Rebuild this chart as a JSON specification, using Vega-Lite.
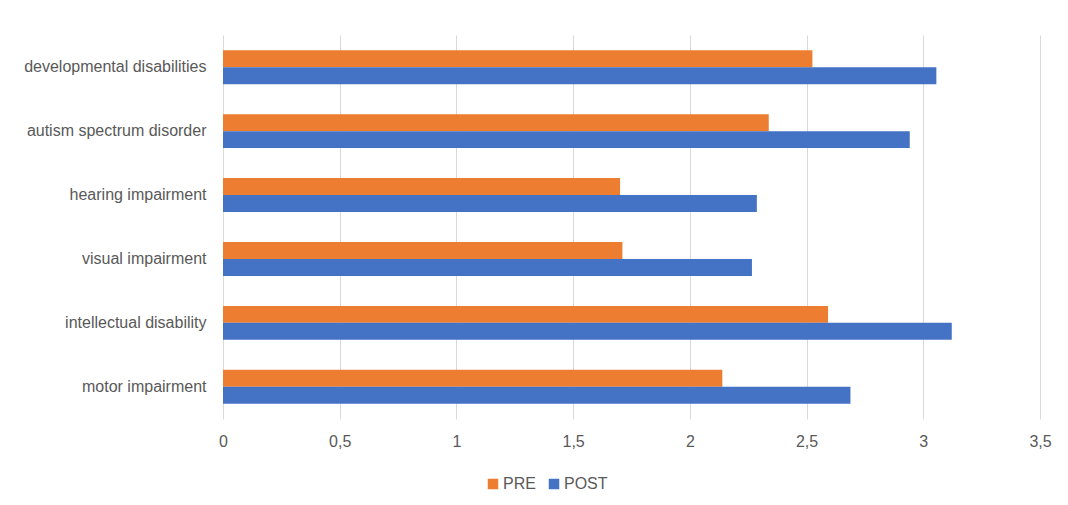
{
  "$schema": "https://vega.github.io/schema/vega-lite/v6.json",
  "autosize": "none",
  "width": 817,
  "height": 384,
  "padding": {"left": 223, "top": 35, "right": 28, "bottom": 86},
  "background": "white",
  "config": {
    "font": "Liberation Sans",
    "view": {"stroke": null},
    "axis": {"labelColor": "#595959", "labelFontSize": 16, "titleColor": "#595959"}
  },
  "data": {
    "values": [
      {"category": "developmental disabilities", "phase": "PRE", "score": 2.525},
      {"category": "developmental disabilities", "phase": "POST", "score": 3.056},
      {"category": "autism spectrum disorder", "phase": "PRE", "score": 2.338},
      {"category": "autism spectrum disorder", "phase": "POST", "score": 2.942},
      {"category": "hearing impairment", "phase": "PRE", "score": 1.701},
      {"category": "hearing impairment", "phase": "POST", "score": 2.287},
      {"category": "visual impairment", "phase": "PRE", "score": 1.711},
      {"category": "visual impairment", "phase": "POST", "score": 2.266},
      {"category": "intellectual disability", "phase": "PRE", "score": 2.592},
      {"category": "intellectual disability", "phase": "POST", "score": 3.122},
      {"category": "motor impairment", "phase": "PRE", "score": 2.139},
      {"category": "motor impairment", "phase": "POST", "score": 2.688}
    ]
  },
  "mark": {"type": "bar"},
  "encoding": {
    "y": {
      "field": "category",
      "type": "nominal",
      "sort": null,
      "scale": {"paddingInner": 0.47, "paddingOuter": 0.24},
      "axis": {
        "title": null,
        "domain": false,
        "ticks": false,
        "labelPadding": 17,
        "labelLimit": 300
      }
    },
    "yOffset": {"field": "phase", "type": "nominal", "sort": ["PRE", "POST"]},
    "x": {
      "field": "score",
      "type": "quantitative",
      "scale": {"domain": [0, 3.5], "nice": false},
      "axis": {
        "title": null,
        "values": [0, 0.5, 1, 1.5, 2, 2.5, 3, 3.5],
        "format": ",.1~f",
        "labelExpr": "replace(datum.label, '.', ',')",
        "labelFlush": false,
        "domain": false,
        "ticks": false,
        "grid": true,
        "gridColor": "#d9d9d9",
        "gridWidth": 1,
        "labelPadding": 14
      }
    },
    "color": {
      "field": "phase",
      "type": "nominal",
      "sort": ["PRE", "POST"],
      "scale": {"domain": ["PRE", "POST"], "range": ["#ED7D31", "#4472C4"]},
      "legend": {
        "title": null,
        "orient": "none",
        "direction": "horizontal",
        "legendX": 262,
        "legendY": 441,
        "symbolType": "square",
        "symbolSize": 110,
        "symbolStrokeWidth": 0,
        "labelFontSize": 16,
        "labelColor": "#595959",
        "columnPadding": 10,
        "labelOffset": 2
      }
    }
  }
}
